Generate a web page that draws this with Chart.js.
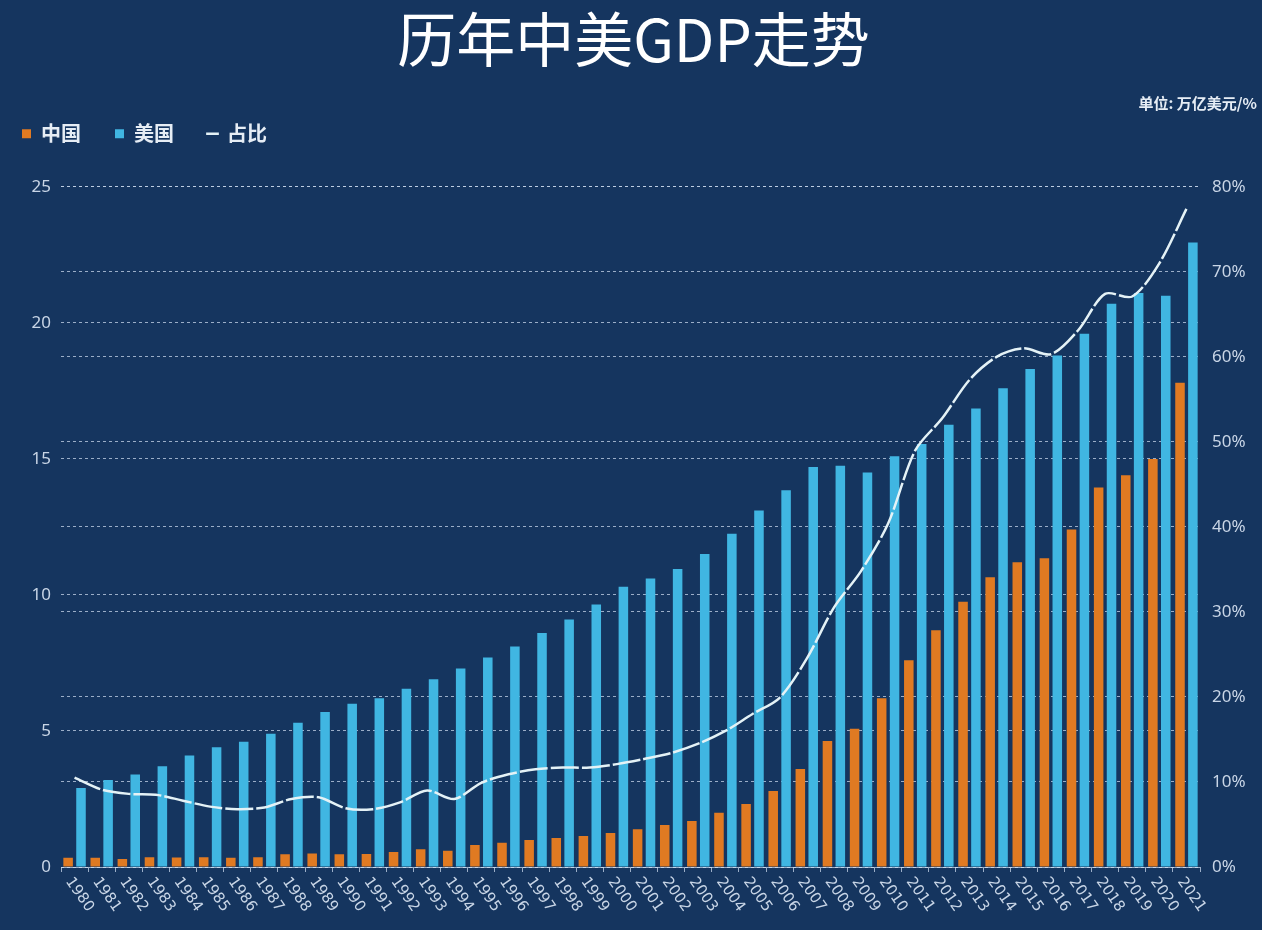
<!DOCTYPE html>
<html>
<head>
<meta charset="utf-8">
<script src="https://cdn.jsdelivr.net/npm/chart.js@4/dist/chart.umd.min.js"></script>
<style>
  html, body { margin: 0; padding: 0; background: #15355f; }
  #wrap { width: 1262px; height: 930px; }
</style>
</head>
<body>
<div id="wrap"><canvas id="myChart" width="1262" height="930"></canvas></div>
<script>
// 年份
var years = ["1980","1981","1982","1983","1984","1985","1986","1987","1988","1989",
  "1990","1991","1992","1993","1994","1995","1996","1997","1998","1999",
  "2000","2001","2002","2003","2004","2005","2006","2007","2008","2009",
  "2010","2011","2012","2013","2014","2015","2016","2017","2018","2019",
  "2020","2021"];

// 中国 GDP (万亿美元)
var chinaGdp = [0.34,0.34,0.29,0.36,0.35,0.36,0.34,0.36,0.47,0.50,
  0.47,0.48,0.55,0.65,0.60,0.81,0.89,0.99,1.07,1.14,
  1.25,1.39,1.54,1.69,1.99,2.32,2.79,3.60,4.63,5.08,
  6.20,7.60,8.70,9.75,10.65,11.20,11.35,12.40,13.95,14.40,
  15.00,17.80];

// 美国 GDP (万亿美元)
var usaGdp = [2.9,3.2,3.4,3.7,4.1,4.4,4.6,4.9,5.3,5.7,
  6.0,6.2,6.55,6.9,7.3,7.7,8.1,8.6,9.1,9.65,
  10.3,10.6,10.95,11.5,12.25,13.1,13.85,14.7,14.75,14.5,
  15.1,15.55,16.25,16.85,17.6,18.3,18.8,19.6,20.7,21.1,
  21.0,22.95];

// 占比 (%)
var shareData = [10.5,9.1,8.6,8.5,7.8,7.1,6.8,7.0,8.0,8.2,
  6.9,6.8,7.6,9.0,8.0,9.9,10.9,11.5,11.7,11.7,
  12.1,12.7,13.4,14.5,16.0,18.0,19.9,24.5,30.5,34.8,
  40.4,49.0,52.8,57.3,60.0,61.0,60.3,63.1,67.4,67.1,
  71.0,77.4];

var leftTicks = [0, 5, 10, 15, 20, 25];
var rightTicks = [0, 10, 20, 30, 40, 50, 60, 70, 80];

var bgColor = "#15355f";
var gridColor = "rgba(200,215,235,0.75)";
var tickColor = "#c8d5e6";

// 背景
var bgPlugin = {
    id: "bg",
    beforeDraw: function(chart) {
        var ctx = chart.ctx;
        ctx.save();
        ctx.fillStyle = bgColor;
        ctx.fillRect(0, 0, chart.width, chart.height);
        ctx.restore();
    }
};

// 图例: 位置微调, 下方留白
var legendShift = {
    id: "legendShift",
    beforeInit: function(chart) {
        var fit = chart.legend.fit;
        chart.legend.fit = function() {
            fit.call(this);
            this.height += 11;
        };
        var draw = chart.legend.draw;
        chart.legend.draw = function() {
            var c = chart.ctx;
            c.save();
            c.translate(-22, -22);
            draw.call(this);
            c.restore();
        };
    }
};

// 倾斜的年份标签 (向右下方)
var xLabels = {
    id: "xLabels",
    afterDraw: function(chart) {
        var x = chart.scales.x, ctx = chart.ctx;
        ctx.save();
        ctx.font = '15px "DejaVu Sans", sans-serif';
        ctx.fillStyle = tickColor;
        ctx.textAlign = "left";
        ctx.textBaseline = "middle";
        years.forEach(function(y, i) {
            var px = x.getPixelForValue(i);
            ctx.save();
            ctx.translate(px - 6, x.top + 12);
            ctx.rotate(55 * Math.PI / 180);
            ctx.fillText(y, 0, 0);
            ctx.restore();
        });
        ctx.restore();
    }
};

var ctx = document.getElementById("myChart").getContext("2d");

new Chart(ctx, {
    data: {
        labels: years,
        datasets: [{
            type: "bar",
            label: "中国",
            data: chinaGdp,
            backgroundColor: "#e07a22",
            pointStyle: "rect",
            yAxisID: "y",
            order: 1,
            barPercentage: 0.74,
            categoryPercentage: 0.95
        }, {
            type: "bar",
            label: "美国",
            data: usaGdp,
            backgroundColor: "#40b6e2",
            pointStyle: "rect",
            yAxisID: "y",
            order: 1,
            barPercentage: 0.74,
            categoryPercentage: 0.95
        }, {
            type: "line",
            label: "占比",
            data: shareData,
            borderColor: "#e4f2f6",
            backgroundColor: "#e4f2f6",
            borderWidth: 2.5,
            borderDash: [28, 3],
            pointRadius: 0,
            pointStyle: "line",
            tension: 0.3,
            yAxisID: "y1",
            order: 0
        }]
    },
    options: {
        responsive: false,
        animation: false,
        layout: {
            padding: { left: 10, right: 5, top: 0, bottom: 58 }
        },
        plugins: {
            title: {
                display: true,
                text: "历年中美GDP走势",
                color: "#ffffff",
                font: { family: '"Noto Sans CJK SC", sans-serif', size: 59, weight: "normal" },
                padding: { top: 4, bottom: 14 }
            },
            subtitle: {
                display: true,
                text: "单位: 万亿美元/%",
                align: "end",
                color: "#e6edf5",
                font: { family: '"Noto Sans CJK SC", sans-serif', size: 15, weight: "bold" },
                padding: { top: 5, bottom: 0 }
            },
            legend: {
                display: true,
                position: "top",
                align: "start",
                labels: {
                    color: "#e6edf5",
                    usePointStyle: true,
                    boxWidth: 9,
                    boxHeight: 9,
                    padding: 34,
                    font: { family: '"Noto Sans CJK SC", sans-serif', size: 20, weight: "bold" },
                    sort: function(a, b) { return a.datasetIndex - b.datasetIndex; }
                }
            },
            tooltip: { enabled: false }
        },
        scales: {
            x: {
                grid: {
                    display: true,
                    drawOnChartArea: false,
                    drawTicks: true,
                    tickLength: 5,
                    color: gridColor
                },
                border: { display: true, color: gridColor },
                ticks: { display: false }
            },
            y: {
                position: "left",
                min: 0,
                max: 25,
                afterBuildTicks: function(scale) {
                    scale.ticks = leftTicks.map(function(v) { return { value: v }; });
                },
                afterFit: function(scale) { scale.width = 51; },
                grid: {
                    color: gridColor,
                    drawTicks: false,
                    lineWidth: 1
                },
                border: { display: false, dash: [3, 3] },
                ticks: {
                    color: tickColor,
                    padding: 10,
                    font: { family: '"Noto Sans", sans-serif', size: 17 }
                }
            },
            y1: {
                position: "right",
                min: 0,
                max: 80,
                afterBuildTicks: function(scale) {
                    scale.ticks = rightTicks.map(function(v) { return { value: v }; });
                },
                afterFit: function(scale) { scale.width = 57; },
                grid: {
                    color: gridColor,
                    drawTicks: false,
                    lineWidth: 1
                },
                border: { display: false, dash: [3, 3] },
                ticks: {
                    color: tickColor,
                    padding: 12,
                    font: { family: '"Noto Sans", sans-serif', size: 17 },
                    callback: function(v) { return v + "%"; }
                }
            }
        }
    },
    plugins: [bgPlugin, legendShift, xLabels]
});
</script>
</body>
</html>
